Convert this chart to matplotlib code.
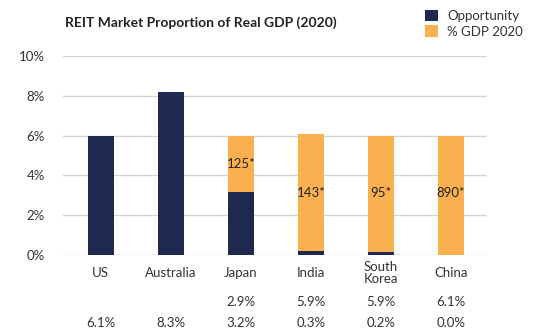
import numpy as np
import matplotlib.pyplot as plt

plt.rcParams['font.family'] = ['Lato', 'DejaVu Sans']

countries = ["US", "Australia", "Japan", "India", "South\nKorea", "China"]
opportunity = [6.0, 8.2, 3.15, 0.2, 0.15, 0.0]
gdp2020 = [0.0, 0.0, 2.85, 5.9, 5.85, 6.0]
bar_notes = ["", "", "125*", "143*", "95*", "890*"]
note_y = [0, 0, 4.55, 3.1, 3.1, 3.1]
row_gdp = ["", "", "2.9%", "5.9%", "5.9%", "6.1%"]
row_opp = ["6.1%", "8.3%", "3.2%", "0.3%", "0.2%", "0.0%"]

navy = "#1f2850"
orange = "#f9b14f"
textc = "#333333"

fig = plt.figure(figsize=(5.4, 3.36), dpi=100)
ax = fig.add_axes([0.1167, 0.241, 0.785, 0.5923])

x = np.arange(len(countries))
ax.bar(x, opportunity, width=0.37, color=navy, label="Opportunity", zorder=3)
ax.bar(x, gdp2020, width=0.37, bottom=opportunity, color=orange, label="% GDP 2020", zorder=3)

for i in range(len(x)):
    if bar_notes[i]:
        ax.text(x[i], note_y[i], bar_notes[i], ha="center", va="center", fontsize=9.5, color="#222222", zorder=4)

tr = ax.get_xaxis_transform()
for i in range(len(x)):
    ax.text(x[i], -0.09, countries[i], ha="center", va="center", fontsize=9.5, color=textc,
            transform=tr, linespacing=0.95)
    ax.text(x[i], -0.236, row_gdp[i], ha="center", va="center", fontsize=9.5, color=textc, transform=tr)
    ax.text(x[i], -0.342, row_opp[i], ha="center", va="center", fontsize=9.5, color=textc, transform=tr)

ax.set_xlim(-0.54, 5.51)
ax.set_ylim(0, 10)
ax.set_yticks(range(0, 11, 2))
ax.set_yticklabels([f"{v}%" for v in range(0, 11, 2)], fontsize=9.5, color=textc)
ax.set_xticks([])
ax.tick_params(axis="y", length=0, pad=13)
ax.grid(axis="y", color="#d4d4d4", linewidth=1, zorder=0)
for s in ax.spines.values():
    s.set_visible(False)

fig.text(65 / 540, 1 - 23 / 336, "REIT Market Proportion of Real GDP (2020)", fontsize=10,
         fontweight="bold", color="#222222", va="center", ha="left")

ax.legend(loc="upper left", bbox_to_anchor=(418 / 540, 1 - 3 / 336), bbox_transform=fig.transFigure,
          frameon=False, fontsize=9.5, handlelength=1.0, handleheight=1.0, handletextpad=0.7,
          labelspacing=0.25, borderpad=0, labelcolor=textc)

fig.savefig("out.png", dpi=100)
